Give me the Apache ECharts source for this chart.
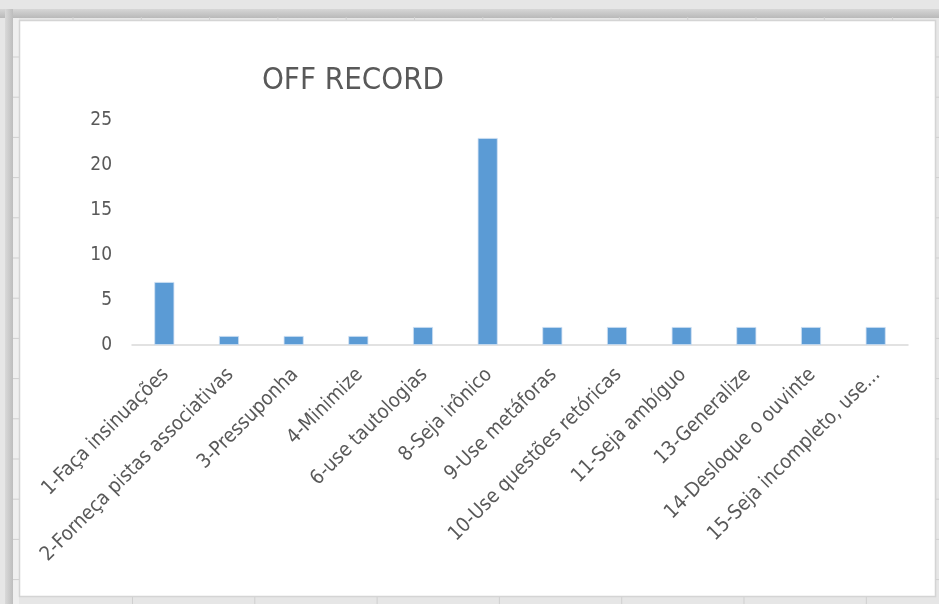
<!DOCTYPE html>
<html>
<head>
<meta charset="utf-8">
<script src="https://cdn.jsdelivr.net/npm/echarts@6/dist/echarts.min.js"></script>
<style>
html,body{margin:0;padding:0;background:#e9e9e9;}
#c{width:939px;height:604px;}
</style>
</head>
<body>
<div id="c"></div>
<script>
const chartTitle = 'OFF RECORD';
const categories = [
  '1-Faça insinuações',
  '2-Forneça pistas associativas',
  '3-Pressuponha',
  '4-Minimize',
  '6-use tautologias',
  '8-Seja irônico',
  '9-Use metáforas',
  '10-Use questões retóricas',
  '11-Seja ambíguo',
  '13-Generalize',
  '14-Desloque o ouvinte',
  '15-Seja incompleto, use...'
];
const values = [7, 1, 1, 1, 2, 23, 2, 2, 2, 2, 2, 2];
const yTicks = [0, 5, 10, 15, 20, 25];

const FONT = "'DejaVu Sans Condensed', 'DejaVu Sans', sans-serif";
const chart = echarts.init(document.getElementById('c'), null, {renderer: 'canvas'});

// decorative spreadsheet frame
const deco = [];
deco.push({type:'rect', shape:{x:0,y:0,width:939,height:604}, style:{fill:'#e6e6e6'}, z:-10, silent:true});
deco.push({type:'rect', shape:{x:0,y:9,width:939,height:9}, style:{fill:new echarts.graphic.LinearGradient(0,0,0,1,[{offset:0,color:'#d6d6d6'},{offset:1,color:'#b9b9b9'}])}, z:-9, silent:true});
deco.push({type:'rect', shape:{x:5,y:9,width:8,height:595}, style:{fill:new echarts.graphic.LinearGradient(0,0,1,0,[{offset:0,color:'#d9d9d9'},{offset:1,color:'#bdbdbd'}])}, z:-9, silent:true});
deco.push({type:'rect', shape:{x:13,y:18,width:6,height:586}, style:{fill:'#efefef'}, z:-9, silent:true});
for (let y = 57; y < 604; y += 40.2) {
  deco.push({type:'line', shape:{x1:13,y1:y,x2:19,y2:y}, style:{stroke:'#cfcfcf',lineWidth:1}, z:-8, silent:true});
  deco.push({type:'line', shape:{x1:936,y1:y,x2:939,y2:y}, style:{stroke:'#cfcfcf',lineWidth:1}, z:-8, silent:true});
}
for (let x = 73; x < 939; x += 68.3) {
  deco.push({type:'line', shape:{x1:x,y1:17,x2:x,y2:20}, style:{stroke:'#cfcfcf',lineWidth:1}, z:-8, silent:true});
}
for (let x = 132.5; x < 939; x += 122.3) {
  deco.push({type:'line', shape:{x1:x,y1:597,x2:x,y2:604}, style:{stroke:'#cfcfcf',lineWidth:1}, z:-8, silent:true});
}
deco.push({type:'rect', shape:{x:19.5,y:20.5,width:916,height:576}, style:{fill:'#ffffff',stroke:'#d4d4d4',lineWidth:1.5}, z:-7, silent:true});

chart.setOption({
  backgroundColor: '#e6e6e6',
  animation: false,
  graphic: deco,
  title: {
    text: chartTitle,
    left: 348, top: 60, textAlign: 'center',
    textStyle: {fontFamily: FONT, fontSize: 31, fontWeight: 'normal', color: '#595959'}
  },
  grid: {left: 132, right: 31, top: 120, bottom: 259},
  xAxis: {
    type: 'category',
    data: categories,
    axisLine: {lineStyle: {color: '#d9d9d9', width: 1.5}},
    axisTick: {show: false},
    axisLabel: {
      interval: 0, rotate: 45, margin: 14, verticalAlign: 'top', padding: [0, 8, 0, 0],
      fontFamily: FONT, fontSize: 20, color: '#595959'
    }
  },
  yAxis: {
    type: 'value',
    min: 0, max: 25, interval: 5,
    axisLine: {show: false},
    axisTick: {show: false},
    splitLine: {show: false},
    axisLabel: {margin: 20, fontFamily: FONT, fontSize: 19, color: '#595959',
      formatter: v => yTicks.includes(v) ? String(v) : ''}
  },
  series: [{
    type: 'bar',
    data: values,
    barWidth: 20,
    itemStyle: {color: '#5b9bd5', borderColor: '#cfe0f2', borderWidth: 0.8}
  }]
});
</script>
</body>
</html>
